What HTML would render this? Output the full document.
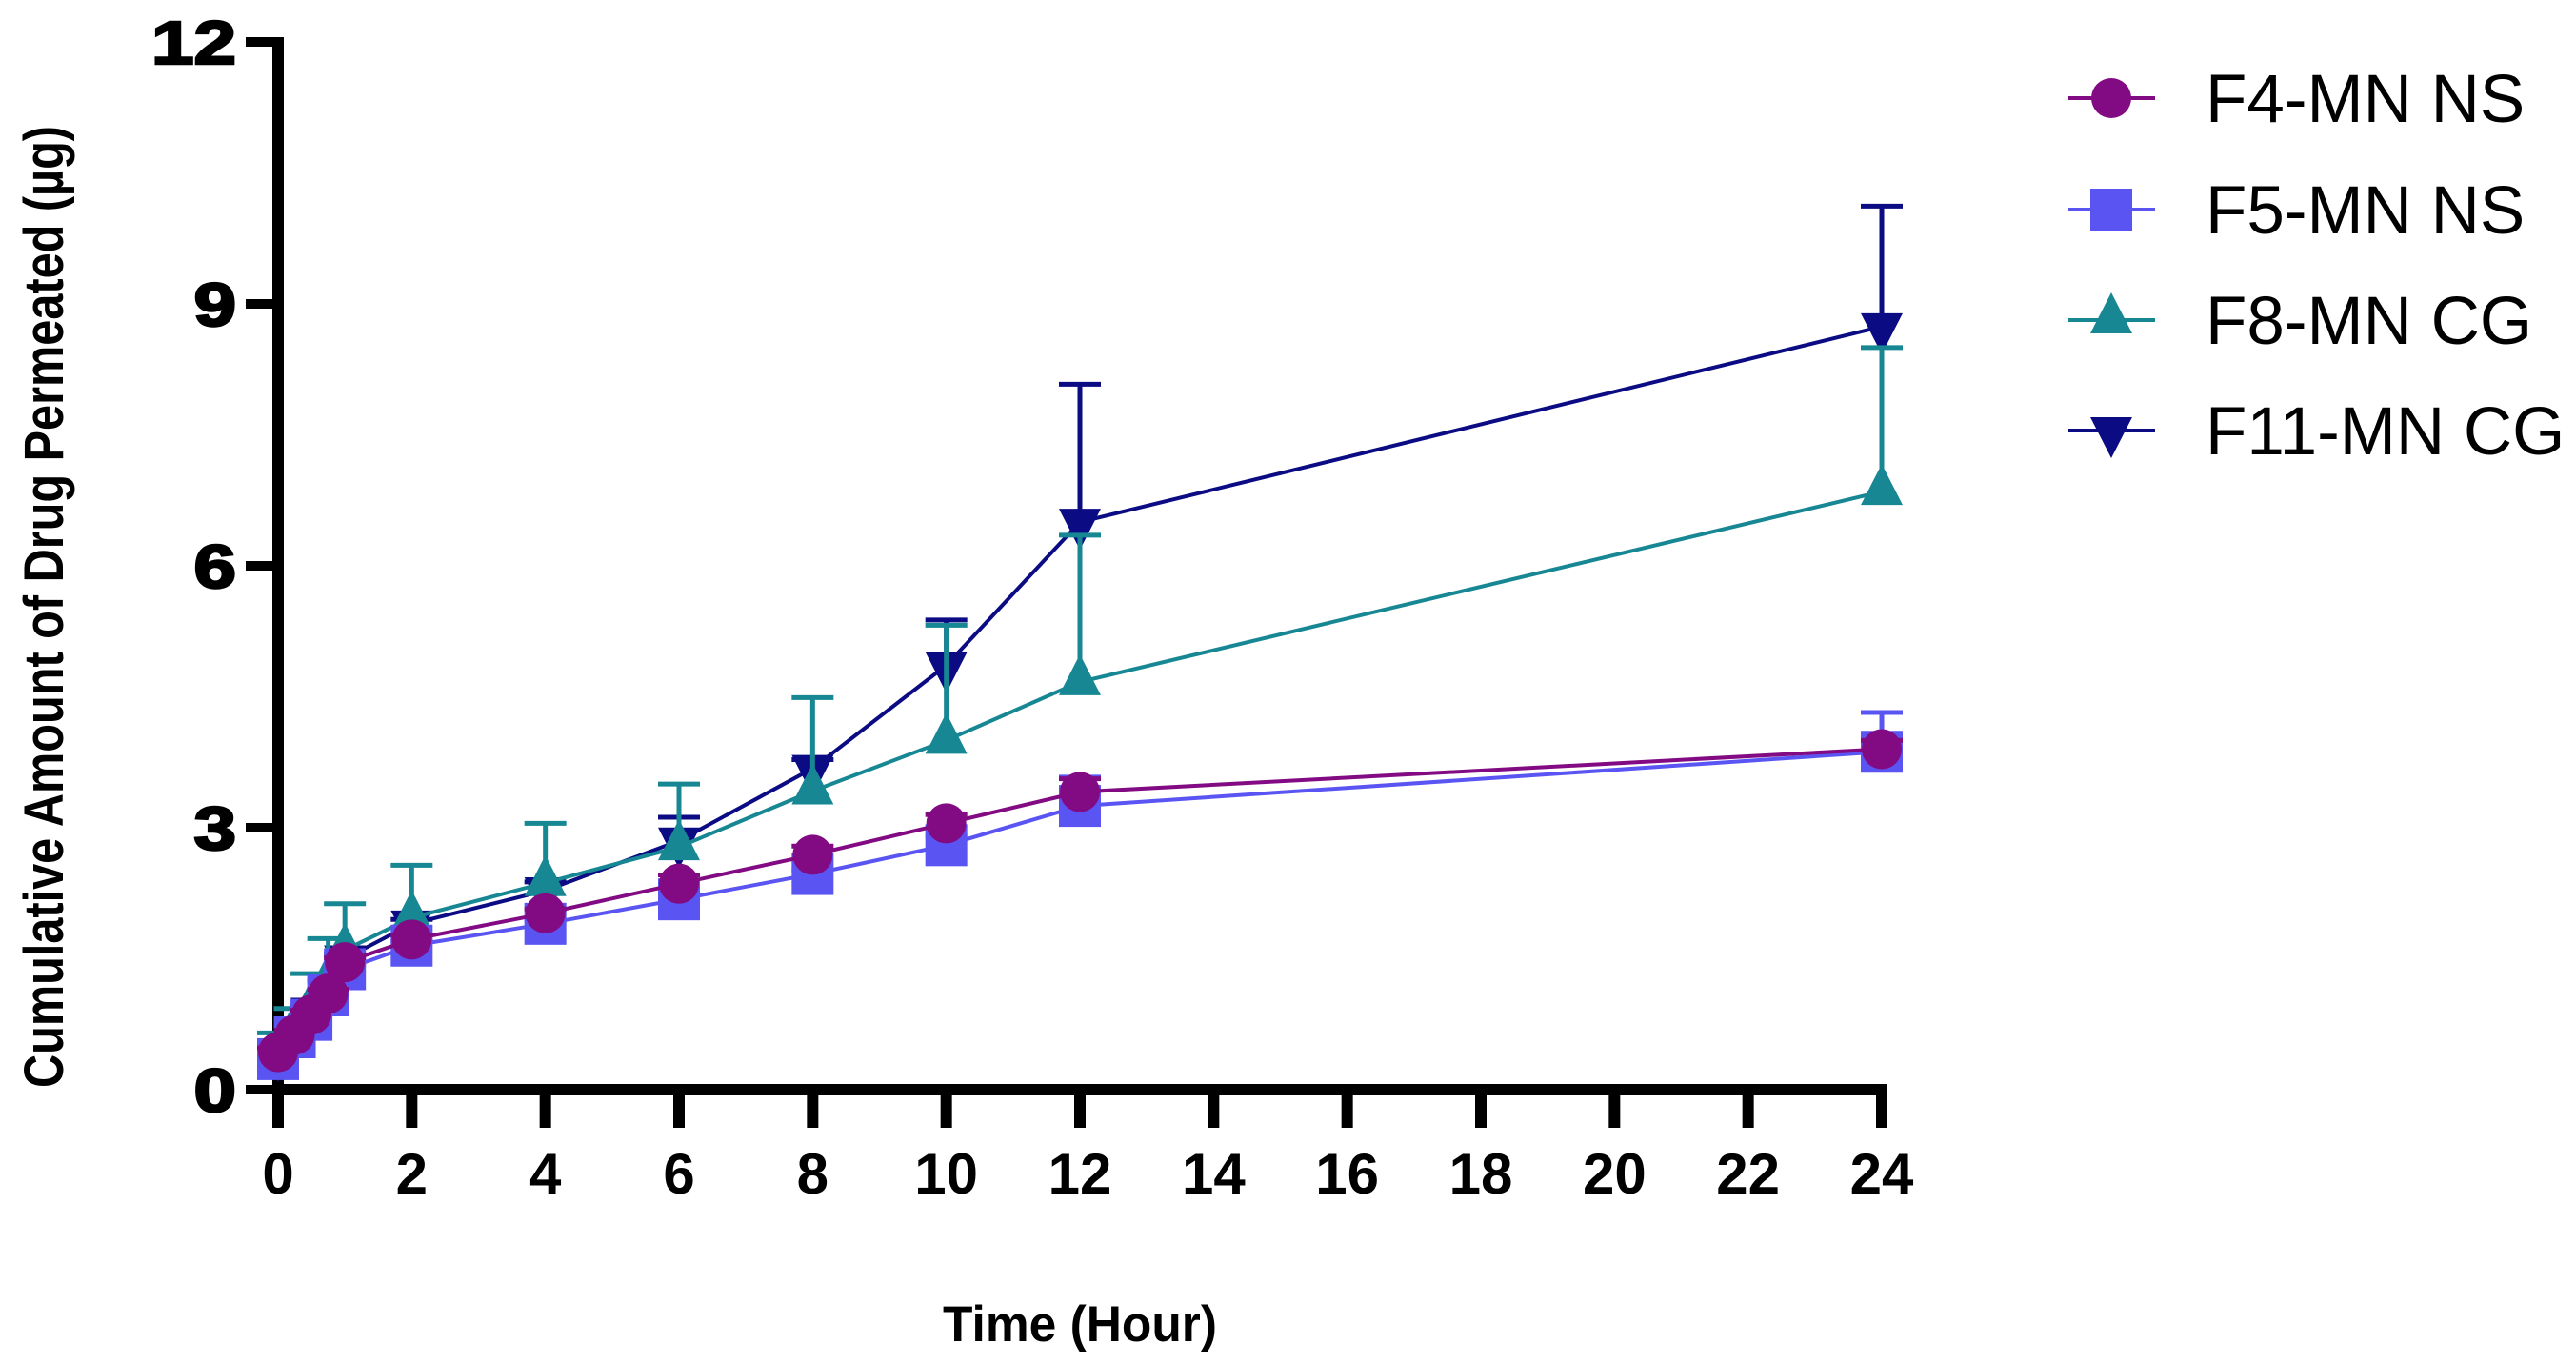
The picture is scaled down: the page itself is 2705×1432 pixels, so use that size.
<!DOCTYPE html>
<html><head><meta charset="utf-8"><style>
html,body{margin:0;padding:0;background:#fff;}
svg{display:block;}
text{font-family:"Liberation Sans",Arial,sans-serif;}
</style></head><body>
<svg id="chart" width="2705" height="1432" viewBox="0 0 2705 1432" xmlns="http://www.w3.org/2000/svg">
<rect x="0" y="0" width="2705" height="1432" fill="#fff"/>
<g id="axes"></g>
<g id="series"></g>
<g id="legend"></g>
<text transform="translate(66,637) rotate(-90)" text-anchor="middle" font-size="58" font-weight="bold" textLength="1010" lengthAdjust="spacingAndGlyphs">Cumulative  Amount of Drug Permeated (µg)</text>
<text x="1134" y="1408" text-anchor="middle" font-size="53" font-weight="bold" textLength="288" lengthAdjust="spacingAndGlyphs">Time (Hour)</text>
</svg>
<script>
const times = [0, 0.25, 0.5, 0.75, 1, 2, 4, 6, 8, 10, 12, 24];
const f4Values = [0.43, 0.63, 0.86, 1.1, 1.46, 1.72, 2.02, 2.36, 2.69, 3.05, 3.41, 3.9];
const f4Errors = [0.05, 0.05, 0.05, 0.05, 0.05, 0.05, 0.05, 0.1, 0.1, 0.1, 0.15, 0.1];
const f5Values = [0.35, 0.6, 0.8, 1.08, 1.38, 1.65, 1.9, 2.18, 2.47, 2.8, 3.25, 3.87];
const f5Errors = [0.05, 0.05, 0.05, 0.05, 0.05, 0.05, 0.05, 0.05, 0.05, 0.1, 0.33, 0.45];
const f8Values = [0.45, 0.7, 0.95, 1.25, 1.6, 1.97, 2.37, 2.78, 3.42, 4.0, 4.67, 6.85];
const f8Errors = [0.2, 0.23, 0.38, 0.48, 0.53, 0.6, 0.68, 0.72, 1.07, 1.32, 1.68, 1.65];
const f11Values = [0.4, 0.65, 0.9, 1.2, 1.5, 1.9, 2.28, 2.85, 3.68, 4.86, 6.5, 8.74];
const f11Errors = [0.05, 0.05, 0.05, 0.05, 0.05, 0.05, 0.1, 0.27, 0.1, 0.52, 1.58, 1.38];
const xTicks = [0, 2, 4, 6, 8, 10, 12, 14, 16, 18, 20, 22, 24];
const yTicks = [0, 3, 6, 9, 12];
const seriesNames = ["F11-MN CG", "F8-MN CG", "F5-MN NS", "F4-MN NS"];

const NS = "http://www.w3.org/2000/svg";
const X0 = 292, X1 = 1976, Y0 = 1144, Y1 = 44;
function xs(v){ return X0 + (v / 24) * (X1 - X0); }
function ys(v){ return Y0 - (v / 12) * (Y0 - Y1); }
function mk(tag, attrs, parent){
  const e = document.createElementNS(NS, tag);
  for (const k in attrs) e.setAttribute(k, attrs[k]);
  parent.appendChild(e);
  return e;
}
const axes = document.getElementById('axes');
yTicks.forEach(t => {
  const tk = mk('line', {x1: 258, x2: X0, y1: ys(t), y2: ys(t), stroke: '#000', 'stroke-width': 10}, axes);
  
  
  const lb = mk('text', {x: 0, y: 0, 'text-anchor': 'end', 'font-size': 64, 'font-weight': 'bold', stroke: '#000', 'stroke-width': 2.5, transform: `translate(248,${ys(t) + 23}) scale(1.25,1)`}, axes);
  lb.textContent = String(t);
  
  
});
xTicks.forEach(t => {
  const tk = mk('line', {x1: xs(t), x2: xs(t), y1: Y0, y2: 1184, stroke: '#000', 'stroke-width': 12}, axes);
  
  
  const lb = mk('text', {x: xs(t), y: 1253, 'text-anchor': 'middle', 'font-size': 60, 'font-weight': 'bold'}, axes);
  lb.textContent = String(t);
  
  
});
const ya = mk('line', {x1: X0, x2: X0, y1: Y1 - 5, y2: Y0 + 6, stroke: '#000', 'stroke-width': 12}, axes);


const xa = mk('line', {x1: X0 - 6, x2: X1 + 6, y1: Y0, y2: Y0, stroke: '#000', 'stroke-width': 12}, axes);



function marker(shape, cx, cy, color, parent){
  let e;
  if (shape === 'circle') e = mk('circle', {cx: cx, cy: cy, r: 21, fill: color}, parent);
  else if (shape === 'square') e = mk('rect', {x: cx - 22, y: cy - 22, width: 44, height: 44, fill: color}, parent);
  else if (shape === 'up') e = mk('polygon', {points: `${cx},${cy-29} ${cx-22},${cy+14} ${cx+22},${cy+14}`, fill: color}, parent);
  else e = mk('polygon', {points: `${cx},${cy+29} ${cx-22},${cy-14} ${cx+22},${cy-14}`, fill: color}, parent);
  return e;
}

const seriesList = [
  {name: seriesNames[0], vals: f11Values, errs: f11Errors, color: '#0b0b84', shape: 'down'},
  {name: seriesNames[1], vals: f8Values, errs: f8Errors, color: '#178793', shape: 'up'},
  {name: seriesNames[2], vals: f5Values, errs: f5Errors, color: '#5a55f2', shape: 'square'},
  {name: seriesNames[3], vals: f4Values, errs: f4Errors, color: '#820a82', shape: 'circle'}
];
const sl = document.getElementById('series');
seriesList.forEach(s => {
  const g = mk('g', {}, sl);
  
  
  times.forEach((t, i) => {
    const top = ys(s.vals[i] + s.errs[i]);
    const eb = mk('path', {d: `M${xs(t)},${ys(s.vals[i])}V${top}M${xs(t)-22},${top}H${xs(t)+22}`, stroke: s.color, 'stroke-width': 5, fill: 'none'}, g);
    
    
  });
  const pts = times.map((t, i) => xs(t) + ',' + ys(s.vals[i])).join(' ');
  const ln = mk('polyline', {points: pts, stroke: s.color, 'stroke-width': 4, fill: 'none'}, g);
  
  
  times.forEach((t, i) => {
    const m = marker(s.shape, xs(t), ys(s.vals[i]), s.color, g);
    
    
  });
});

const legend = document.getElementById('legend');
const legendOrder = [3, 2, 1, 0];
const rowY = [103, 220, 336, 452];
legendOrder.forEach((idx, r) => {
  const s = seriesList[idx];
  const g = mk('g', {}, legend);
  
  
  mk('line', {x1: 2172, x2: 2263, y1: rowY[r], y2: rowY[r], stroke: s.color, 'stroke-width': 4}, g);
  marker(s.shape, 2217, rowY[r], s.color, g);
  const tx = mk('text', {x: 2316, y: rowY[r] + 25, 'font-size': 71}, g);
  tx.textContent = s.name;
  
  
});
</script>
</body></html>
